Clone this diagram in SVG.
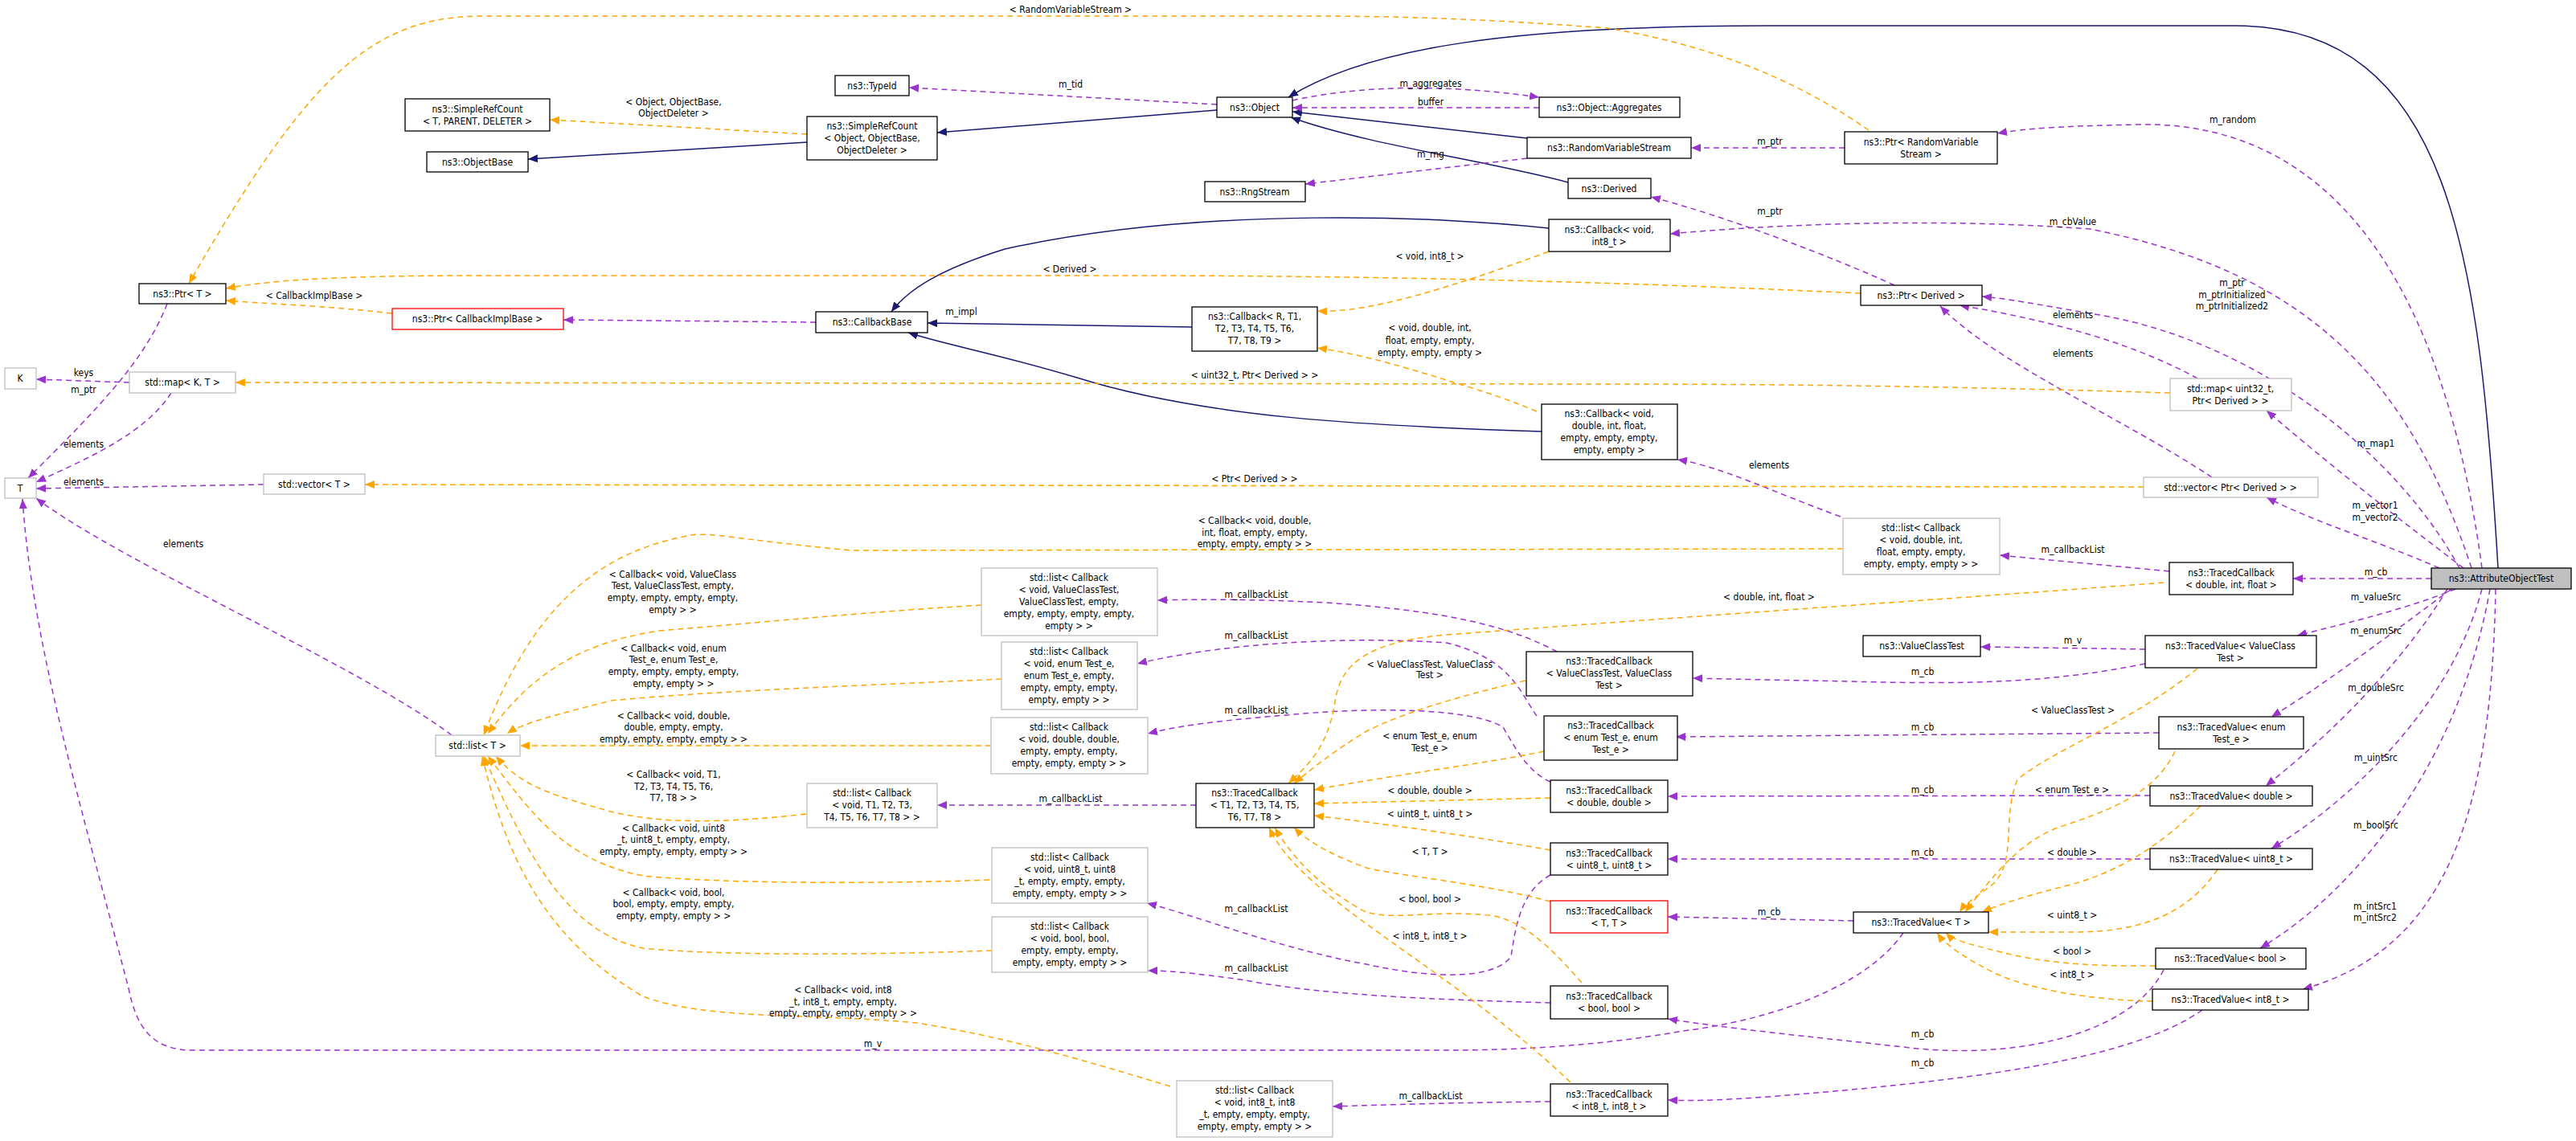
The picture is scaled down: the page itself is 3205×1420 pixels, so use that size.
<svg xmlns="http://www.w3.org/2000/svg" width="3205" height="1420" viewBox="0 0 3205 1420">
<style>
text{font-family:"DejaVu Sans Condensed","Liberation Sans",sans-serif;font-size:12px;fill:#000;text-anchor:middle}
.b{fill:#fff;stroke:#000;stroke-width:1.3}
.g{fill:#fff;stroke:#bfbfbf;stroke-width:1.3}
.r{fill:#fff;stroke:#ff0000;stroke-width:1.3}
.h{fill:#bfbfbf;stroke:#000;stroke-width:1.3}
.n{fill:none;stroke:#191970;stroke-width:1.5;marker-end:url(#an)}
.p{fill:none;stroke:#9a32cd;stroke-width:1.5;stroke-dasharray:7,5;marker-end:url(#ap)}
.o{fill:none;stroke:#ffa500;stroke-width:1.5;stroke-dasharray:7,5;marker-end:url(#ao)}
</style>
<defs>
<marker id="an" markerUnits="userSpaceOnUse" markerWidth="13" markerHeight="10" refX="12" refY="5" orient="auto"><path d="M0,0L12,5L0,10z" fill="#191970"/></marker>
<marker id="ap" markerUnits="userSpaceOnUse" markerWidth="13" markerHeight="10" refX="12" refY="5" orient="auto"><path d="M0,0L12,5L0,10z" fill="#9a32cd"/></marker>
<marker id="ao" markerUnits="userSpaceOnUse" markerWidth="13" markerHeight="10" refX="12" refY="5" orient="auto"><path d="M0,0L12,5L0,10z" fill="#ffa500"/></marker>
</defs>
<rect width="3205" height="1420" fill="#fff"/>
<g id="edges">
<path class="n" d="M3108,707 C3085,320 3050,32 2780,32 L2200,32 C1880,32 1700,60 1603,121"/>
<path class="n" d="M1004,177 L657,198"/>
<path class="n" d="M1514,137 L1166,165"/>
<path class="n" d="M1900,172 L1608,139"/>
<path class="n" d="M1951,227 C1850,200 1700,180 1606,146"/>
<path class="n" d="M1927,284 C1800,270 1500,255 1250,310 C1170,335 1130,360 1109,388"/>
<path class="n" d="M1483,407 L1154,402"/>
<path class="n" d="M1918,537 C1700,530 1500,520 1340,470 C1240,440 1180,430 1130,414"/>

<path class="p" d="M1514,130 L1131,109"/>
<path class="p" d="M1608,125 C1700,105 1800,105 1915,121"/>
<path class="p" d="M1915,134 L1608,134"/>
<path class="p" d="M1900,197 L1624,229"/>
<path class="p" d="M2295,184 L2104,184"/>
<path class="p" d="M3088,707 C3040,350 2900,150 2660,155 C2560,157 2520,160 2485,166"/>
<path class="p" d="M2357,355 C2280,320 2150,270 2054,245"/>
<path class="p" d="M3075,707 C3000,480 2880,340 2600,285 C2400,270 2200,280 2078,291"/>
<path class="p" d="M3060,707 C2980,560 2800,420 2600,390 C2530,378 2500,372 2466,369"/>
<path class="p" d="M2734,471 C2660,430 2560,400 2438,380"/>
<path class="p" d="M2752,594 C2640,520 2480,450 2414,381"/>
<path class="p" d="M3065,707 C2990,650 2900,580 2820,511"/>
<path class="p" d="M3035,707 C2950,670 2880,650 2820,619"/>
<path class="p" d="M3025,720 L2853,720"/>
<path class="p" d="M2699,711 L2488,691"/>
<path class="p" d="M2290,643 C2200,610 2140,580 2087,572"/>
<path class="p" d="M3055,733 C2990,760 2900,780 2858,791"/>
<path class="p" d="M2669,808 L2464,805"/>
<path class="p" d="M2669,826 C2550,850 2450,852 2300,848 C2200,846 2150,845 2106,844"/>
<path class="p" d="M3050,733 C2960,800 2880,860 2826,892"/>
<path class="p" d="M2686,912 L2085,917"/>
<path class="p" d="M3045,733 C2980,840 2880,930 2819,978"/>
<path class="p" d="M2675,990 L2075,991"/>
<path class="p" d="M3088,733 C3050,880 2920,1000 2826,1056"/>
<path class="p" d="M3098,733 C3060,950 2930,1110 2812,1180"/>
<path class="p" d="M3105,733 C3100,1000 3050,1180 2865,1231"/>
<path class="p" d="M2675,1069 L2075,1069"/>
<path class="p" d="M2306,1146 L2075,1141"/>
<path class="p" d="M2692,1207 C2650,1290 2500,1320 2368,1303 C2250,1290 2150,1280 2075,1268"/>
<path class="p" d="M2740,1257 C2650,1320 2450,1345 2200,1365 C2130,1370 2100,1370 2075,1369"/>
<path class="p" d="M2368,1161 C2320,1230 2200,1270 2094,1283 C2000,1300 1900,1307 1800,1307 L240,1307 C190,1307 170,1280 160,1230 C100,1000 40,800 28,621"/>
<path class="p" d="M1937,811 C1880,780 1800,760 1650,750 C1550,745 1480,746 1440,747"/>
<path class="p" d="M1912,891 C1890,860 1880,820 1800,800 C1650,790 1500,805 1415,826"/>
<path class="p" d="M1929,973 C1900,960 1885,930 1870,905 C1830,880 1700,880 1600,890 C1500,898 1460,905 1428,913"/>
<path class="p" d="M1488,1002 L1166,1002"/>
<path class="p" d="M1929,1089 C1890,1110 1885,1160 1880,1190 C1860,1220 1780,1218 1700,1200 C1590,1180 1490,1140 1427,1124"/>
<path class="p" d="M1929,1248 C1820,1245 1650,1240 1550,1220 C1480,1210 1450,1208 1428,1208"/>
<path class="p" d="M1929,1371 C1820,1372 1720,1375 1658,1377"/>
<path class="p" d="M562,915 C450,830 150,700 45,620"/>
<path class="p" d="M161,476 L45,472"/>
<path class="p" d="M213,489 C180,540 110,570 45,600"/>
<path class="p" d="M328,603 L45,608"/>
<path class="p" d="M208,378 C180,450 120,510 35,595"/>
<path class="p" d="M1015,401 L701,398"/>

<path class="o" d="M2325,162 C2250,110 2150,60 2000,35 C1800,20 1700,20 1600,20 L600,20 C460,20 380,100 235,353"/>
<path class="o" d="M1004,167 L684,149"/>
<path class="o" d="M2315,365 C2000,350 1700,343 1400,343 L600,343 C400,343 330,350 281,359"/>
<path class="o" d="M488,390 C400,380 330,378 281,374"/>
<path class="o" d="M1927,313 C1800,360 1700,390 1639,387"/>
<path class="o" d="M1912,512 C1860,490 1820,480 1790,470 C1740,455 1690,440 1639,433"/>
<path class="o" d="M2700,489 C2400,480 2200,478 2000,478 L293,476"/>
<path class="o" d="M2667,606 L454,603"/>
<path class="o" d="M2293,683 L1060,685 C900,670 880,660 850,668 C740,690 660,760 602,915"/>
<path class="o" d="M1221,753 C1100,760 1000,770 820,785 C720,800 660,840 607,913"/>
<path class="o" d="M1246,845 C1100,852 880,860 760,872 C690,890 650,900 631,913"/>
<path class="o" d="M1233,928 L647,928"/>
<path class="o" d="M2692,725 C2500,740 2200,760 1800,790 C1680,800 1665,840 1660,880 C1650,930 1630,950 1603,975"/>
<path class="o" d="M1898,847 C1800,870 1740,890 1700,910 C1660,935 1640,950 1610,975"/>
<path class="o" d="M1921,935 C1850,950 1730,965 1635,983"/>
<path class="o" d="M1929,993 L1635,1000"/>
<path class="o" d="M1929,1058 C1830,1040 1720,1025 1635,1015"/>
<path class="o" d="M1929,1122 C1850,1100 1740,1090 1700,1080 C1660,1065 1630,1050 1610,1030"/>
<path class="o" d="M1968,1223 C1930,1180 1900,1150 1860,1140 C1780,1130 1720,1150 1690,1130 C1640,1100 1610,1070 1586,1030"/>
<path class="o" d="M1954,1347 C1800,1200 1620,1120 1579,1030"/>
<path class="o" d="M1003,1013 C900,1025 820,1025 760,1010 C690,990 650,980 617,941"/>
<path class="o" d="M1231,1095 C1100,1100 900,1100 800,1090 C700,1070 660,1010 607,941"/>
<path class="o" d="M1234,1183 C1100,1188 900,1190 800,1180 C700,1160 650,1050 602,941"/>
<path class="o" d="M1456,1352 C1350,1320 1250,1290 1140,1273 C1000,1260 880,1270 800,1240 C680,1170 630,1070 600,941"/>
<path class="o" d="M2734,832 C2650,900 2560,930 2510,970 C2490,1020 2510,1070 2480,1100 C2460,1115 2445,1125 2438,1135"/>
<path class="o" d="M2706,935 C2680,990 2620,1010 2560,1030 C2510,1050 2480,1090 2445,1135"/>
<path class="o" d="M2738,1003 C2700,1040 2650,1080 2580,1100 C2520,1115 2490,1125 2466,1135"/>
<path class="o" d="M2759,1082 C2720,1140 2660,1160 2580,1160 L2474,1160"/>
<path class="o" d="M2682,1202 C2600,1203 2540,1198 2490,1185 C2450,1175 2430,1170 2421,1161"/>
<path class="o" d="M2678,1246 C2600,1245 2520,1230 2480,1210 C2440,1190 2420,1175 2410,1161"/>
</g>
<g id="labels">
<text x="1332" y="16">&lt; RandomVariableStream &gt;</text>
<text x="1332" y="109">m_tid</text>
<text x="1780" y="108">m_aggregates</text>
<text x="1780" y="131">buffer</text>
<text x="1780" y="196">m_rng</text>
<text x="838" y="131">&lt; Object, ObjectBase,</text>
<text x="838" y="145">ObjectDeleter &gt;</text>
<text x="2202" y="180">m_ptr</text>
<text x="2778" y="153">m_random</text>
<text x="2202" y="267">m_ptr</text>
<text x="2579" y="280">m_cbValue</text>
<text x="1779" y="323">&lt; void, int8_t &gt;</text>
<text x="1331" y="339">&lt; Derived &gt;</text>
<text x="391" y="372">&lt; CallbackImplBase &gt;</text>
<text x="1196" y="392">m_impl</text>
<text x="2777" y="356">m_ptr</text>
<text x="2777" y="371">m_ptrInitialized</text>
<text x="2777" y="385">m_ptrInitialized2</text>
<text x="2579" y="396">elements</text>
<text x="2579" y="444">elements</text>
<text x="1779" y="412">&lt; void, double, int,</text>
<text x="1779" y="428">float, empty, empty,</text>
<text x="1779" y="443">empty, empty, empty &gt;</text>
<text x="1561" y="471">&lt; uint32_t, Ptr&lt; Derived &gt; &gt;</text>
<text x="104" y="468">keys</text>
<text x="104" y="489">m_ptr</text>
<text x="104" y="557">elements</text>
<text x="104" y="604">elements</text>
<text x="228" y="681">elements</text>
<text x="2956" y="556">m_map1</text>
<text x="2201" y="583">elements</text>
<text x="1561" y="600">&lt; Ptr&lt; Derived &gt; &gt;</text>
<text x="2955" y="633">m_vector1</text>
<text x="2955" y="648">m_vector2</text>
<text x="1561" y="652">&lt; Callback&lt; void, double,</text>
<text x="1561" y="667">int, float, empty, empty,</text>
<text x="1561" y="681">empty, empty, empty &gt; &gt;</text>
<text x="2579" y="688">m_callbackList</text>
<text x="2956" y="716">m_cb</text>
<text x="837" y="719">&lt; Callback&lt; void, ValueClass</text>
<text x="837" y="733">Test, ValueClassTest, empty,</text>
<text x="837" y="748">empty, empty, empty, empty,</text>
<text x="837" y="763">empty &gt; &gt;</text>
<text x="1563" y="744">m_callbackList</text>
<text x="2956" y="747">m_valueSrc</text>
<text x="2201" y="747">&lt; double, int, float &gt;</text>
<text x="2956" y="789">m_enumSrc</text>
<text x="1563" y="795">m_callbackList</text>
<text x="2579" y="801">m_v</text>
<text x="838" y="811">&lt; Callback&lt; void, enum</text>
<text x="838" y="825">Test_e, enum Test_e,</text>
<text x="838" y="840">empty, empty, empty, empty,</text>
<text x="838" y="855">empty, empty &gt; &gt;</text>
<text x="1779" y="831">&lt; ValueClassTest, ValueClass</text>
<text x="1779" y="844">Test &gt;</text>
<text x="2392" y="840">m_cb</text>
<text x="2956" y="860">m_doubleSrc</text>
<text x="2579" y="888">&lt; ValueClassTest &gt;</text>
<text x="1563" y="888">m_callbackList</text>
<text x="838" y="895">&lt; Callback&lt; void, double,</text>
<text x="838" y="909">double, empty, empty,</text>
<text x="838" y="924">empty, empty, empty, empty &gt; &gt;</text>
<text x="2392" y="909">m_cb</text>
<text x="1779" y="920">&lt; enum Test_e, enum</text>
<text x="1779" y="935">Test_e &gt;</text>
<text x="2956" y="947">m_uintSrc</text>
<text x="838" y="968">&lt; Callback&lt; void, T1,</text>
<text x="838" y="983">T2, T3, T4, T5, T6,</text>
<text x="838" y="997">T7, T8 &gt; &gt;</text>
<text x="1779" y="988">&lt; double, double &gt;</text>
<text x="2392" y="987">m_cb</text>
<text x="2578" y="987">&lt; enum Test_e &gt;</text>
<text x="1332" y="998">m_callbackList</text>
<text x="1779" y="1017">&lt; uint8_t, uint8_t &gt;</text>
<text x="2956" y="1031">m_boolSrc</text>
<text x="838" y="1035">&lt; Callback&lt; void, uint8</text>
<text x="838" y="1049">_t, uint8_t, empty, empty,</text>
<text x="838" y="1064">empty, empty, empty, empty &gt; &gt;</text>
<text x="1779" y="1064">&lt; T, T &gt;</text>
<text x="2392" y="1065">m_cb</text>
<text x="2578" y="1065">&lt; double &gt;</text>
<text x="838" y="1115">&lt; Callback&lt; void, bool,</text>
<text x="838" y="1129">bool, empty, empty, empty,</text>
<text x="838" y="1144">empty, empty, empty &gt; &gt;</text>
<text x="1779" y="1123">&lt; bool, bool &gt;</text>
<text x="1563" y="1135">m_callbackList</text>
<text x="2201" y="1139">m_cb</text>
<text x="2578" y="1143">&lt; uint8_t &gt;</text>
<text x="2955" y="1132">m_intSrc1</text>
<text x="2955" y="1146">m_intSrc2</text>
<text x="1779" y="1169">&lt; int8_t, int8_t &gt;</text>
<text x="2578" y="1188">&lt; bool &gt;</text>
<text x="1563" y="1209">m_callbackList</text>
<text x="2578" y="1217">&lt; int8_t &gt;</text>
<text x="1049" y="1236">&lt; Callback&lt; void, int8</text>
<text x="1049" y="1251">_t, int8_t, empty, empty,</text>
<text x="1049" y="1265">empty, empty, empty, empty &gt; &gt;</text>
<text x="2392" y="1291">m_cb</text>
<text x="1086" y="1303">m_v</text>
<text x="2392" y="1327">m_cb</text>
<text x="1780" y="1368">m_callbackList</text>
</g>
<g id="AttributeObjectTest"><rect class="h" x="3025" y="707" width="174" height="26"/><text x="3112" y="724">ns3::AttributeObjectTest</text></g>
<g id="Object"><rect class="b" x="1514" y="121" width="94" height="25"/><text x="1561" y="138">ns3::Object</text></g>
<g id="TypeId"><rect class="b" x="1039" y="94" width="92" height="25"/><text x="1085" y="111">ns3::TypeId</text></g>
<g id="SimpleRefCountObject"><rect class="b" x="1004" y="145" width="162" height="54"/><text x="1085" y="161">ns3::SimpleRefCount</text><text x="1085" y="176">&lt; Object, ObjectBase,</text><text x="1085" y="191">ObjectDeleter &gt;</text></g>
<g id="SimpleRefCountT"><rect class="b" x="504" y="123" width="180" height="40"/><text x="594" y="140">ns3::SimpleRefCount</text><text x="594" y="155">&lt; T, PARENT, DELETER &gt;</text></g>
<g id="ObjectBase"><rect class="b" x="531" y="189" width="126" height="25"/><text x="594" y="206">ns3::ObjectBase</text></g>
<g id="Aggregates"><rect class="b" x="1915" y="121" width="175" height="25"/><text x="2002" y="138">ns3::Object::Aggregates</text></g>
<g id="RandomVariableStream"><rect class="b" x="1900" y="171" width="204" height="26"/><text x="2002" y="188">ns3::RandomVariableStream</text></g>
<g id="RngStream"><rect class="b" x="1499" y="226" width="125" height="25"/><text x="1561" y="243">ns3::RngStream</text></g>
<g id="Derived"><rect class="b" x="1951" y="222" width="103" height="25"/><text x="2002" y="239">ns3::Derived</text></g>
<g id="PtrRVS"><rect class="b" x="2295" y="164" width="190" height="40"/><text x="2390" y="181">ns3::Ptr&lt; RandomVariable</text><text x="2390" y="196">Stream &gt;</text></g>
<g id="CallbackVoidInt8"><rect class="b" x="1927" y="273" width="151" height="40"/><text x="2002" y="290">ns3::Callback&lt; void,</text><text x="2002" y="305">int8_t &gt;</text></g>
<g id="PtrDerived"><rect class="b" x="2315" y="355" width="151" height="25"/><text x="2390" y="372">ns3::Ptr&lt; Derived &gt;</text></g>
<g id="PtrT"><rect class="b" x="173" y="353" width="108" height="25"/><text x="227" y="370">ns3::Ptr&lt; T &gt;</text></g>
<g id="PtrCallbackImplBase"><rect class="r" x="488" y="384" width="213" height="26"/><text x="594" y="401">ns3::Ptr&lt; CallbackImplBase &gt;</text></g>
<g id="CallbackBase"><rect class="b" x="1015" y="388" width="139" height="26"/><text x="1085" y="405">ns3::CallbackBase</text></g>
<g id="CallbackR"><rect class="b" x="1483" y="382" width="156" height="55"/><text x="1561" y="398">ns3::Callback&lt; R, T1,</text><text x="1561" y="413">T2, T3, T4, T5, T6,</text><text x="1561" y="428">T7, T8, T9 &gt;</text></g>
<g id="K"><rect class="g" x="6" y="458" width="39" height="26"/><text x="25" y="475">K</text></g>
<g id="MapKT"><rect class="g" x="161" y="463" width="132" height="26"/><text x="227" y="480">std::map&lt; K, T &gt;</text></g>
<g id="MapUint"><rect class="g" x="2700" y="471" width="151" height="40"/><text x="2775" y="488">std::map&lt; uint32_t,</text><text x="2775" y="503">Ptr&lt; Derived &gt; &gt;</text></g>
<g id="CallbackVoidDouble"><rect class="b" x="1918" y="503" width="169" height="69"/><text x="2002" y="519">ns3::Callback&lt; void,</text><text x="2002" y="534">double, int, float,</text><text x="2002" y="549">empty, empty, empty,</text><text x="2002" y="564">empty, empty &gt;</text></g>
<g id="T"><rect class="g" x="6" y="595" width="39" height="25"/><text x="25" y="612">T</text></g>
<g id="VectorT"><rect class="g" x="328" y="590" width="126" height="25"/><text x="391" y="607">std::vector&lt; T &gt;</text></g>
<g id="VectorPtr"><rect class="g" x="2667" y="594" width="217" height="25"/><text x="2775" y="611">std::vector&lt; Ptr&lt; Derived &gt; &gt;</text></g>
<g id="ListDIF"><rect class="g" x="2293" y="645" width="195" height="70"/><text x="2390" y="661">std::list&lt; Callback</text><text x="2390" y="676">&lt; void, double, int,</text><text x="2390" y="691">float, empty, empty,</text><text x="2390" y="706">empty, empty, empty &gt; &gt;</text></g>
<g id="TCDIF"><rect class="b" x="2699" y="700" width="154" height="40"/><text x="2776" y="717">ns3::TracedCallback</text><text x="2776" y="732">&lt; double, int, float &gt;</text></g>
<g id="ListVCT"><rect class="g" x="1221" y="707" width="219" height="84"/><text x="1330" y="723">std::list&lt; Callback</text><text x="1330" y="738">&lt; void, ValueClassTest,</text><text x="1330" y="753">ValueClassTest, empty,</text><text x="1330" y="768">empty, empty, empty, empty,</text><text x="1330" y="783">empty &gt; &gt;</text></g>
<g id="ValueClassTest"><rect class="b" x="2318" y="791" width="146" height="26"/><text x="2391" y="808">ns3::ValueClassTest</text></g>
<g id="TVVCT"><rect class="b" x="2669" y="791" width="213" height="40"/><text x="2775" y="808">ns3::TracedValue&lt; ValueClass</text><text x="2775" y="823">Test &gt;</text></g>
<g id="ListEnum"><rect class="g" x="1246" y="799" width="169" height="84"/><text x="1330" y="815">std::list&lt; Callback</text><text x="1330" y="830">&lt; void, enum Test_e,</text><text x="1330" y="845">enum Test_e, empty,</text><text x="1330" y="860">empty, empty, empty,</text><text x="1330" y="875">empty, empty &gt; &gt;</text></g>
<g id="TCVCT"><rect class="b" x="1899" y="811" width="207" height="55"/><text x="2002" y="827">ns3::TracedCallback</text><text x="2002" y="842">&lt; ValueClassTest, ValueClass</text><text x="2002" y="857">Test &gt;</text></g>
<g id="TCEnum"><rect class="b" x="1921" y="891" width="166" height="55"/><text x="2004" y="907">ns3::TracedCallback</text><text x="2004" y="922">&lt; enum Test_e, enum</text><text x="2004" y="937">Test_e &gt;</text></g>
<g id="TVEnum"><rect class="b" x="2686" y="892" width="180" height="40"/><text x="2776" y="909">ns3::TracedValue&lt; enum</text><text x="2776" y="924">Test_e &gt;</text></g>
<g id="ListDD"><rect class="g" x="1233" y="893" width="195" height="70"/><text x="1330" y="909">std::list&lt; Callback</text><text x="1330" y="924">&lt; void, double, double,</text><text x="1330" y="939">empty, empty, empty,</text><text x="1330" y="954">empty, empty, empty &gt; &gt;</text></g>
<g id="ListT"><rect class="g" x="542" y="915" width="105" height="26"/><text x="594" y="932">std::list&lt; T &gt;</text></g>
<g id="TCT1"><rect class="b" x="1488" y="975" width="147" height="55"/><text x="1561" y="991">ns3::TracedCallback</text><text x="1561" y="1006">&lt; T1, T2, T3, T4, T5,</text><text x="1561" y="1021">T6, T7, T8 &gt;</text></g>
<g id="ListT1"><rect class="g" x="1004" y="975" width="162" height="55"/><text x="1085" y="991">std::list&lt; Callback</text><text x="1085" y="1006">&lt; void, T1, T2, T3,</text><text x="1085" y="1021">T4, T5, T6, T7, T8 &gt; &gt;</text></g>
<g id="TCDD"><rect class="b" x="1929" y="971" width="146" height="40"/><text x="2002" y="988">ns3::TracedCallback</text><text x="2002" y="1003">&lt; double, double &gt;</text></g>
<g id="TVDouble"><rect class="b" x="2675" y="978" width="202" height="25"/><text x="2776" y="995">ns3::TracedValue&lt; double &gt;</text></g>
<g id="TCU8"><rect class="b" x="1929" y="1049" width="146" height="40"/><text x="2002" y="1066">ns3::TracedCallback</text><text x="2002" y="1081">&lt; uint8_t, uint8_t &gt;</text></g>
<g id="TVU8"><rect class="b" x="2675" y="1056" width="202" height="26"/><text x="2776" y="1073">ns3::TracedValue&lt; uint8_t &gt;</text></g>
<g id="ListU8"><rect class="g" x="1234" y="1055" width="194" height="69"/><text x="1331" y="1071">std::list&lt; Callback</text><text x="1331" y="1086">&lt; void, uint8_t, uint8</text><text x="1331" y="1101">_t, empty, empty, empty,</text><text x="1331" y="1116">empty, empty, empty &gt; &gt;</text></g>
<g id="TCTT"><rect class="r" x="1929" y="1121" width="146" height="40"/><text x="2002" y="1138">ns3::TracedCallback</text><text x="2002" y="1153">&lt; T, T &gt;</text></g>
<g id="TVT"><rect class="b" x="2306" y="1135" width="168" height="26"/><text x="2390" y="1152">ns3::TracedValue&lt; T &gt;</text></g>
<g id="ListBool"><rect class="g" x="1234" y="1141" width="194" height="69"/><text x="1331" y="1157">std::list&lt; Callback</text><text x="1331" y="1172">&lt; void, bool, bool,</text><text x="1331" y="1187">empty, empty, empty,</text><text x="1331" y="1202">empty, empty, empty &gt; &gt;</text></g>
<g id="TVBool"><rect class="b" x="2682" y="1180" width="187" height="26"/><text x="2775" y="1197">ns3::TracedValue&lt; bool &gt;</text></g>
<g id="TCBool"><rect class="b" x="1929" y="1227" width="146" height="41"/><text x="2002" y="1244">ns3::TracedCallback</text><text x="2002" y="1259">&lt; bool, bool &gt;</text></g>
<g id="TVInt8"><rect class="b" x="2678" y="1231" width="194" height="26"/><text x="2775" y="1248">ns3::TracedValue&lt; int8_t &gt;</text></g>
<g id="ListInt8"><rect class="g" x="1464" y="1345" width="194" height="70"/><text x="1561" y="1361">std::list&lt; Callback</text><text x="1561" y="1376">&lt; void, int8_t, int8</text><text x="1561" y="1391">_t, empty, empty, empty,</text><text x="1561" y="1406">empty, empty, empty &gt; &gt;</text></g>
<g id="TCInt8"><rect class="b" x="1929" y="1349" width="146" height="40"/><text x="2002" y="1366">ns3::TracedCallback</text><text x="2002" y="1381">&lt; int8_t, int8_t &gt;</text></g>
</svg>
